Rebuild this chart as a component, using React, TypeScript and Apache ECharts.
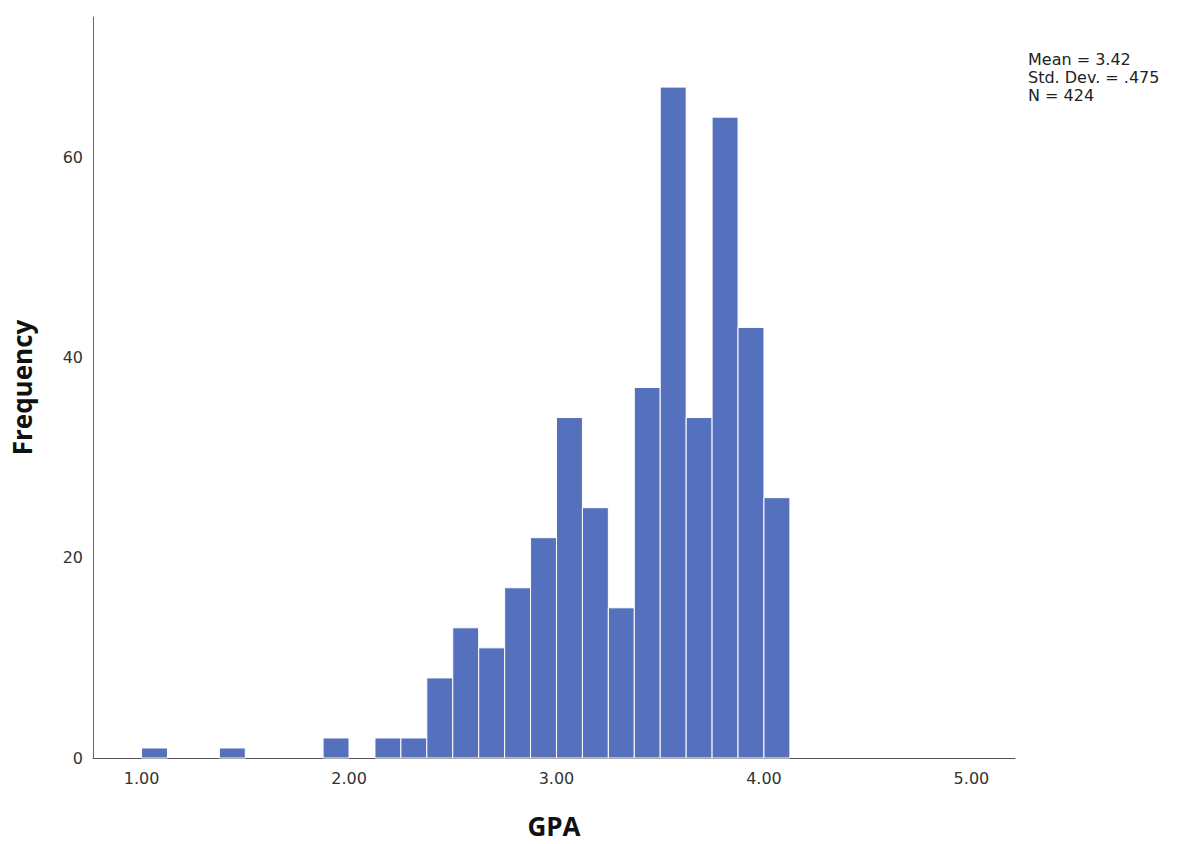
import React, { useEffect, useRef } from "react";
import * as echarts from "echarts";

// Histogram bins (left edge of each bin, GPA) and frequencies
const binStarts = [
  1.0, 1.125, 1.25, 1.375, 1.5, 1.625, 1.75, 1.875, 2.0, 2.125, 2.25, 2.375,
  2.5, 2.625, 2.75, 2.875, 3.0, 3.125, 3.25, 3.375, 3.5, 3.625, 3.75, 3.875, 4.0,
];
const counts = [
  1, 0, 0, 1, 0, 0, 0, 2, 0, 2, 2, 8, 13, 11, 17, 22, 34, 25, 15, 37, 67, 34,
  64, 43, 26,
];
const binWidth = 0.125;
const xTicks = [1, 2, 3, 4, 5];
const yTicks = [0, 20, 40, 60];
const statsLines = ["Mean = 3.42", "Std. Dev. = .475", "N = 424"];

export default function App() {
  const ref = useRef<HTMLDivElement>(null);

  useEffect(() => {
    if (!ref.current) return;
    const chart = echarts.init(ref.current, undefined, { renderer: "svg" });

    const data = binStarts
      .map((s, i) => [s, s + binWidth, counts[i]])
      .filter((d) => d[2] > 0);

    chart.setOption({
      animation: false,
      backgroundColor: "#ffffff",
      grid: { left: 93, right: 165, top: 17, bottom: 82, containLabel: false },
      xAxis: {
        type: "value",
        min: 0.766,
        max: 5.21,
        axisLine: { show: true, lineStyle: { color: "#555555", width: 1 } },
        axisTick: { show: false },
        splitLine: { show: false },
        axisLabel: {
          customValues: xTicks,
          formatter: (v: number) => v.toFixed(2),
          fontSize: 16,
          color: "#333333",
          fontFamily: "DejaVu Sans",
          margin: 12,
        },
        name: "GPA",
        nameLocation: "middle",
        nameGap: 55,
        nameTextStyle: {
          fontSize: 26,
          fontWeight: "bold",
          fontFamily: "Open Sans",
          color: "#111111",
        },
      },
      yAxis: {
        type: "value",
        min: 0,
        max: 74,
        axisLine: { show: true, lineStyle: { color: "#666666", width: 1 } },
        axisTick: { show: false },
        splitLine: { show: false },
        axisLabel: {
          customValues: yTicks,
          fontSize: 16,
          color: "#333333",
          fontFamily: "DejaVu Sans",
          margin: 10,
        },
        name: "Frequency",
        nameLocation: "middle",
        nameGap: 58,
        nameTextStyle: {
          fontSize: 26,
          fontWeight: "bold",
          fontFamily: "Open Sans",
          color: "#111111",
        },
      },
      series: [
        {
          type: "custom",
          data,
          encode: { x: [0, 1], y: 2 },
          renderItem: (params: any, api: any) => {
            const x0 = api.value(0);
            const x1 = api.value(1);
            const c = api.value(2);
            const p0 = api.coord([x0, c]);
            const p1 = api.coord([x1, 0]);
            return {
              type: "rect",
              shape: {
                x: p0[0],
                y: p0[1],
                width: p1[0] - p0[0],
                height: p1[1] - p0[1],
              },
              style: { fill: "#5571bd", stroke: "#ffffff", lineWidth: 1 },
            };
          },
        },
      ],
      graphic: [
        {
          type: "text",
          left: 1028,
          top: 50,
          style: {
            text: statsLines.join("\n"),
            fontSize: 16,
            lineHeight: 18,
            fontFamily: "DejaVu Sans",
            fill: "#222222",
          },
        },
      ],
    });

    return () => chart.dispose();
  }, []);

  return (
    <div
      ref={ref}
      style={{ position: "fixed", left: 0, top: 0, width: 1180, height: 844 }}
    />
  );
}
